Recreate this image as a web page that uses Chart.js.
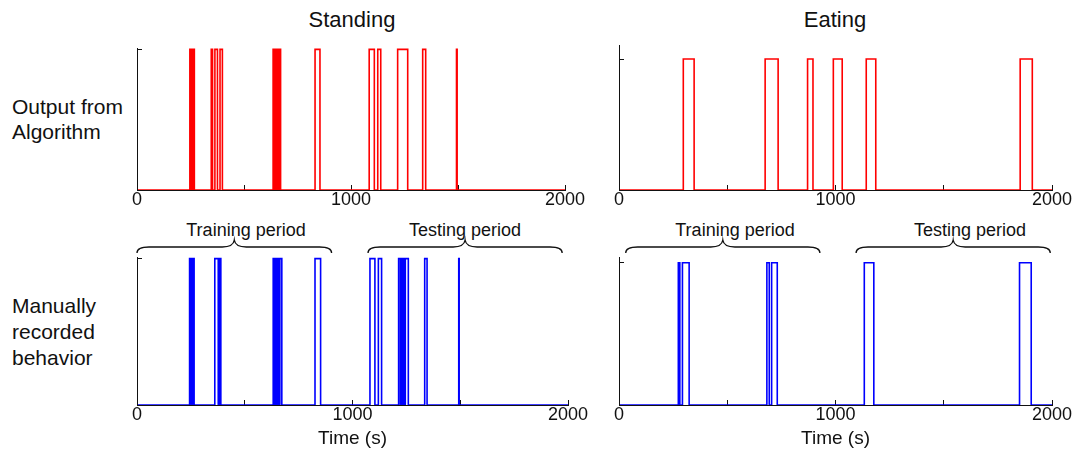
<!DOCTYPE html>
<html>
<head>
<meta charset="utf-8">
<script src="https://cdn.jsdelivr.net/npm/chart.js@4.4.1/dist/chart.umd.min.js"></script>
<style>
  body { margin: 0; width: 1073px; height: 453px; background: #fff; position: relative; overflow: hidden;
         font-family: "Liberation Sans", Arial, sans-serif; color: #111; }
  canvas { position: absolute; }
  .lbl { position: absolute; white-space: nowrap; }
  .title { font-size: 22px; line-height: 25px; transform: translateX(-50%); }
  .row { font-size: 21px; left: 12px; }
  .period { font-size: 18px; line-height: 22px; transform: translateX(-50%); }
</style>
</head>
<body>
<div class="lbl title" style="left:352px; top:7px;">Standing</div>
<div class="lbl title" style="left:835px; top:7px;">Eating</div>
<div class="lbl row" style="top:94px; line-height:25px;">Output from<br>Algorithm</div>
<div class="lbl row" style="top:293px; line-height:26px;">Manually<br>recorded<br>behavior</div>
<div class="lbl period" style="left:246px; top:219px;">Training period</div>
<div class="lbl period" style="left:465px; top:219px;">Testing period</div>
<div class="lbl period" style="left:735px; top:219px;">Training period</div>
<div class="lbl period" style="left:970px; top:219px;">Testing period</div>

<canvas id="standAlg" width="488" height="192" style="left:107px; top:38px;"></canvas>
<canvas id="eatAlg" width="493" height="195" style="left:589px; top:35px;"></canvas>
<canvas id="standMan" width="491" height="226" style="left:107px; top:227px;"></canvas>
<canvas id="eatMan" width="493" height="226" style="left:589px; top:227px;"></canvas>

<script>
// Time range and labelled ticks (s)
const tMin = 0;
const tMax = 2000;
const labelTicks = [0, 1000, 2000];

// Standing - output from algorithm: pulse start / end times (s)
const standAlgOn  = [247, 253, 261, 347, 364, 388, 636, 644, 653, 664, 832, 1085, 1125, 1218, 1335, 1493];
const standAlgOff = [251, 258, 268, 353, 376, 399, 641, 650, 660, 671, 855, 1109, 1139, 1265, 1349, 1496];

// Standing - manually recorded
const standManOn  = [244, 252, 261, 361, 383, 632, 641, 651, 663, 826, 1081, 1120, 1214, 1225, 1234, 1245, 1335, 1493];
const standManOff = [249, 258, 265, 377, 389, 638, 647, 658, 672, 852, 1104, 1135, 1222, 1230, 1241, 1259, 1346, 1495];

// Eating - output from algorithm
const eatAlgOn  = [297, 675, 871, 990, 1142, 1853];
const eatAlgOff = [347, 735, 896, 1031, 1186, 1909];

// Eating - manually recorded
const eatManOn  = [274, 293, 683, 705, 1133, 1850];
const eatManOff = [281, 324, 694, 731, 1177, 1904];

// Training / testing brackets (s)
const standSpans = [[0, 903], [1072, 1973]];
const eatSpans = [[31, 928], [1095, 1992]];

function stepPoints(on, off) {
  const pts = [{x: tMin, y: 0}];
  on.forEach((t, i) => {
    pts.push({x: t, y: 1});
    pts.push({x: off[i], y: 0});
  });
  pts.push({x: tMax, y: 0});
  return pts;
}

// curly brackets above the plot, placed with the x scale
const bracePlugin = {
  id: 'braces',
  afterDraw(chart, args, opts) {
    if (!opts.spans) return;
    const ctx = chart.ctx;
    const area = chart.chartArea;
    const xs = chart.scales.x;
    ctx.save();
    ctx.strokeStyle = '#111';
    ctx.lineWidth = 1.3;
    opts.spans.forEach(([a, b]) => {
      const x0 = xs.getPixelForValue(a);
      const x1 = xs.getPixelForValue(b);
      const xm = (x0 + x1) / 2;
      const yEnd = area.top - 4, yH = area.top - 10, yTip = area.top - 17;
      ctx.beginPath();
      ctx.moveTo(x0, yEnd);
      ctx.quadraticCurveTo(x0, yH, x0 + 12, yH);
      ctx.lineTo(xm - 12, yH);
      ctx.quadraticCurveTo(xm - 1, yH, xm, yTip);
      ctx.quadraticCurveTo(xm + 1, yH, xm + 12, yH);
      ctx.lineTo(x1 - 12, yH);
      ctx.quadraticCurveTo(x1, yH, x1, yEnd);
      ctx.stroke();
    });
    ctx.restore();
  }
};

function makeChart(id, points, color, cfg) {
  new Chart(document.getElementById(id), {
    type: 'line',
    data: {
      datasets: [{
        data: points,
        borderColor: color,
        borderWidth: 1.6,
        pointRadius: 0,
        stepped: 'before',
        fill: false
      }]
    },
    plugins: [bracePlugin],
    options: {
      responsive: false,
      animation: false,
      devicePixelRatio: 1,
      layout: { padding: { left: 30, right: 30, top: cfg.padTop, bottom: 0 } },
      plugins: {
        legend: { display: false },
        tooltip: { enabled: false },
        braces: { spans: cfg.spans }
      },
      scales: {
        x: {
          type: 'linear',
          min: tMin,
          max: tMax,
          afterFit: (scale) => { scale.height = cfg.axisHeight; },
          ticks: {
            stepSize: 500,
            autoSkip: false,
            maxRotation: 0,
            padding: 4,
            color: '#111',
            font: { family: 'Liberation Sans', size: 18 },
            callback: (v) => labelTicks.includes(v) ? String(v) : ''
          },
          grid: {
            drawOnChartArea: false,
            drawTicks: true,
            tickLength: -5,
            tickColor: '#111',
            tickWidth: 1
          },
          border: { color: '#111', width: 1, z: cfg.axisOnTop ? 1 : 0 },
          title: {
            display: cfg.showTitle,
            text: 'Time (s)',
            color: '#111',
            font: { family: 'Liberation Sans', size: 19 },
            padding: { top: 0, bottom: 3 }
          }
        },
        y: {
          type: 'linear',
          min: 0,
          max: cfg.yMax,
          afterFit: (scale) => { scale.width = 0; },
          afterBuildTicks: (scale) => { scale.ticks = [{value: 0}, {value: 1}]; },
          ticks: { display: false },
          grid: {
            drawOnChartArea: false,
            drawTicks: true,
            tickLength: -5,
            tickColor: '#111',
            tickWidth: 1
          },
          border: { color: '#111', width: 1, z: 1 }
        }
      }
    }
  });
}

makeChart('standAlg', stepPoints(standAlgOn, standAlgOff), '#ff0000',
  { yMax: 1.01, padTop: 10, axisHeight: 40, axisOnTop: true, showTitle: false });
makeChart('eatAlg', stepPoints(eatAlgOn, eatAlgOff), '#ff0000',
  { yMax: 1.107, padTop: 10, axisHeight: 40, axisOnTop: false, showTitle: false });
makeChart('standMan', stepPoints(standManOn, standManOff), '#0000ff',
  { yMax: 1.011, padTop: 30, axisHeight: 48, axisOnTop: true, showTitle: true, spans: standSpans });
makeChart('eatMan', stepPoints(eatManOn, eatManOff), '#0000ff',
  { yMax: 1.04, padTop: 30, axisHeight: 48, axisOnTop: false, showTitle: true, spans: eatSpans });
</script>
</body>
</html>
